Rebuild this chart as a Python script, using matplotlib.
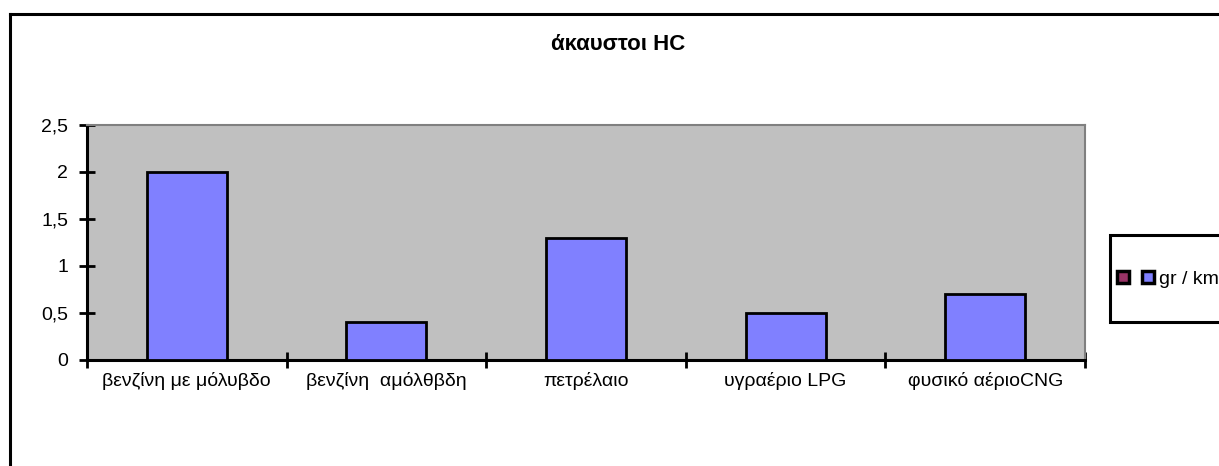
import matplotlib
matplotlib.use("Agg")
import matplotlib.pyplot as plt
from matplotlib.patches import Rectangle
from matplotlib.lines import Line2D
from matplotlib.legend_handler import HandlerTuple
from matplotlib.ticker import FixedLocator, NullFormatter

plt.rcParams['font.family'] = ['Liberation Sans', 'DejaVu Sans']

categories = ["βενζίνη με μόλυβδο", "βενζίνη  αμόλθβδη", "πετρέλαιο",
              "υγραέριο LPG", "φυσικό αέριοCNG"]
values = [2.0, 0.4, 1.3, 0.5, 0.7]
yticks = [0, 0.5, 1, 1.5, 2, 2.5]
ytick_labels = ["0", "0,5", "1", "1,5", "2", "2,5"]
title = "άκαυστοι HC"
series_name = "gr / km"

W, H = 1219, 466
fig = plt.figure(figsize=(W / 100, H / 100), dpi=100)

# outer chart border (only top and left visible, rest is cut off)
fig.add_artist(Line2D([10 / W, 10 / W], [0, 1 - 14 / H], color="black", lw=2.2))
fig.add_artist(Line2D([10 / W, 1], [1 - 14 / H, 1 - 14 / H], color="black", lw=2.2))

ax = fig.add_axes([87 / W, 1 - 360 / H, (1085 - 87) / W, (360 - 125) / H])
ax.set_facecolor("#C0C0C0")
x = list(range(len(categories)))
ax.bar(x, values, width=0.4, color="#8080FF", edgecolor="black", linewidth=2, zorder=3)

ax.set_xlim(-0.5, len(categories) - 0.5)
ax.set_ylim(0, 2.5)
ax.set_yticks(yticks)
ax.set_yticklabels(ytick_labels, fontsize=14)
ax.xaxis.set_major_locator(FixedLocator([i - 0.5 for i in range(len(categories) + 1)]))
ax.xaxis.set_major_formatter(NullFormatter())
ax.xaxis.set_minor_locator(FixedLocator(x))
ax.set_xticklabels(categories, minor=True, fontsize=14)
ax.tick_params(axis="x", which="minor", length=0, pad=9)
ax.tick_params(axis="both", which="major", direction="inout", length=11, width=2, color="black")
ax.tick_params(axis="y", pad=8)

for s in ["left", "bottom"]:
    ax.spines[s].set_linewidth(2.2)
    ax.spines[s].set_color("black")
for s in ["top", "right"]:
    ax.spines[s].set_linewidth(1.5)
    ax.spines[s].set_color("#808080")

fig.text(618 / W, 1 - 45 / H, title, ha="center", va="center", fontsize=16, fontweight="bold")

# legend box
fig.add_artist(Rectangle((1110 / W, 1 - 322 / H), (W - 1110) / W + 0.01, 87 / H,
                         transform=fig.transFigure, facecolor="white", edgecolor="black",
                         lw=2.2, clip_on=False))
h1 = Line2D([], [], ls="none", marker="s", markersize=8, markerfacecolor="#993366",
            markeredgecolor="black", markeredgewidth=2.5)
h2 = Line2D([], [], ls="none", marker="s", markersize=8, markerfacecolor="#8080FF",
            markeredgecolor="black", markeredgewidth=2.5)
fig.legend([(h1, h2)], [series_name], handler_map={tuple: HandlerTuple(ndivide=None, pad=0.3)},
           loc="center left", bbox_to_anchor=(1114 / W, 1 - 279 / H), frameon=False,
           fontsize=14, handlelength=2.2, handletextpad=0.1,
           borderaxespad=0, borderpad=0)

fig.savefig("out.png", dpi=100)
